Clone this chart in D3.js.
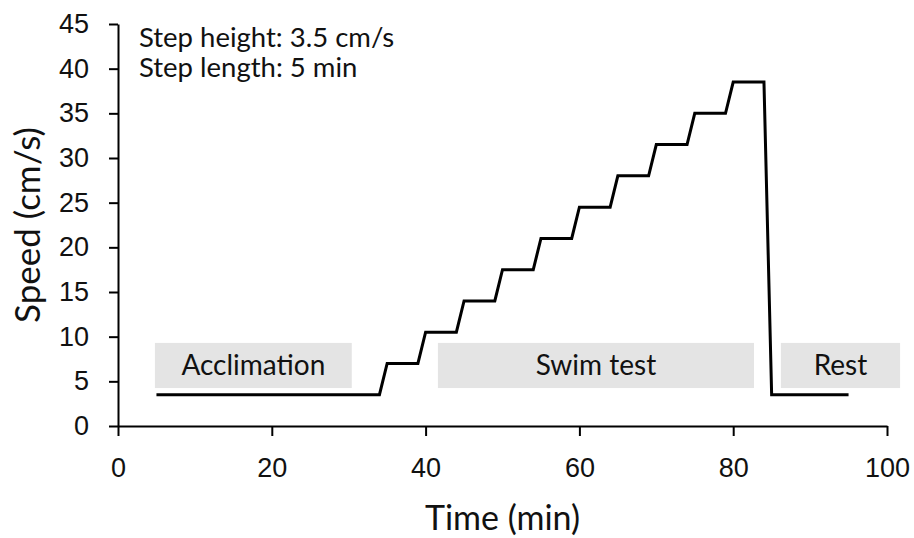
<!doctype html>
<html lang="en">
<head>
    <meta charset="UTF-8" />
    <title>Swim test protocol</title>
    <script src="https://d3js.org/d3.v7.min.js"></script>
    <style>
        body, html {
            margin: 0;
            padding: 0;
            background: #ffffff;
        }
        svg {
            display: block;
            font-family: Lato, "Open Sans", sans-serif;
        }
        .axis path, .axis line {
            stroke: #000;
            stroke-width: 2px;
        }
        .axis text {
            font-size: 27px;
            fill: #111;
        }
    </style>
</head>
<body>
    <svg id="chart" width="914" height="538"></svg>
    <script>
        // speed profile (min, cm/s)
        const times = [5, 34, 35, 39, 40, 44, 45, 49, 50, 54, 55, 59, 60, 64, 65, 69, 70, 74, 75, 79, 80, 84, 85, 95];
        const speeds = [3.5, 3.5, 7, 7, 10.5, 10.5, 14, 14, 17.5, 17.5, 21, 21, 24.5, 24.5, 28, 28, 31.5, 31.5, 35, 35, 38.5, 38.5, 3.5, 3.5];

        // phase labels and their spans on the time axis
        const phaseNames = ["Acclimation", "Swim test", "Rest"];
        const phaseStart = [4.8, 41.6, 86.2];
        const phaseEnd = [30.4, 82.7, 101.7];

        const xTicks = [0, 20, 40, 60, 80, 100];
        const yTicks = [0, 5, 10, 15, 20, 25, 30, 35, 40, 45];
        const notes = ["Step height: 3.5 cm/s", "Step length: 5 min"];

        const svg = d3.select("#chart");
        const margin = { left: 118, right: 27, top: 24, bottom: 112 };
        const width = 914, height = 538;

        const x = d3.scaleLinear().domain([0, 100]).range([margin.left, width - margin.right]);
        const y = d3.scaleLinear().domain([0, 45]).range([height - margin.bottom, margin.top]);

        // grey phase boxes
        const boxTop = 9.3, boxBottom = 4.25;
        const phases = phaseNames.map((name, i) => ({ name, start: phaseStart[i], end: phaseEnd[i] }));

        svg.selectAll("rect.phase")
            .data(phases)
            .enter()
            .append("rect")
            .attr("class", "phase")
            .attr("x", d => x(d.start))
            .attr("y", y(boxTop))
            .attr("width", d => x(d.end) - x(d.start))
            .attr("height", y(boxBottom) - y(boxTop))
            .attr("fill", "#e4e4e4");

        svg.selectAll("text.phase")
            .data(phases)
            .enter()
            .append("text")
            .attr("class", "phase")
            .attr("x", d => (x(d.start) + x(d.end)) / 2)
            .attr("y", 375)
            .attr("text-anchor", "middle")
            .attr("font-size", 28)
            .attr("fill", "#111")
            .text(d => d.name);

        // axes
        svg.append("g")
            .attr("class", "axis")
            .attr("transform", `translate(0,${y(0)})`)
            .call(d3.axisBottom(x).tickValues(xTicks).tickSize(10).tickPadding(22).tickSizeOuter(0));

        svg.append("g")
            .attr("class", "axis")
            .attr("transform", `translate(${x(0)},0)`)
            .call(d3.axisLeft(y).tickValues(yTicks).tickSize(9).tickPadding(20).tickSizeOuter(0));

        // step line
        const points = times.map((t, i) => [t, speeds[i]]);
        const line = d3.line().x(d => x(d[0])).y(d => y(d[1]));

        svg.append("path")
            .datum(points)
            .attr("d", line)
            .attr("fill", "none")
            .attr("stroke", "#000")
            .attr("stroke-width", 3)
            .attr("stroke-linejoin", "miter");

        // annotations
        svg.selectAll("text.note")
            .data(notes)
            .enter()
            .append("text")
            .attr("class", "note")
            .attr("x", 139)
            .attr("y", (d, i) => 47 + i * 30)
            .attr("font-size", 27.5)
            .attr("fill", "#111")
            .text(d => d);

        // axis titles
        svg.append("text")
            .attr("x", (x(0) + x(100)) / 2)
            .attr("y", 530)
            .attr("text-anchor", "middle")
            .attr("font-size", 34)
            .attr("fill", "#111")
            .text("Time (min)");

        svg.append("text")
            .attr("transform", `translate(40,${(y(0) + y(45)) / 2}) rotate(-90)`)
            .attr("text-anchor", "middle")
            .attr("font-size", 35)
            .attr("fill", "#111")
            .text("Speed (cm/s)");
    </script>
</body>
</html>
